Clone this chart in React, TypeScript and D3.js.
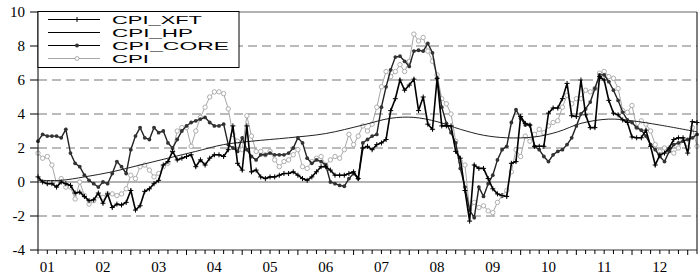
import React from "react";
import * as d3 from "d3";

// month index counted from Jan 2001 (0); first observation = May 2001
const START_MONTH = 4;
const END_MONTH = 146;

const yearLabels = ["01", "02", "03", "04", "05", "06", "07", "08", "09", "10", "11", "12"];
const yTicks = [-4, -2, 0, 2, 4, 6, 8, 10];
const dashedLevels = [-2, 2, 4, 6, 8];

const cpi = [
  1.7, 1.4, 1.5, 1.0, -0.1, 0.2, -0.3, -0.3,
  -1.0, 0.0, -0.8, -1.3, -1.1, -0.8, -0.9, -0.7, -0.7, -0.8, -0.7, -0.4,
  0.4, 0.2, 0.9, 1.0, 0.7, 0.3, 0.5, 0.9, 1.1, 1.8, 3.0, 3.2,
  3.2, 2.1, 3.0, 3.8, 4.4, 5.0, 5.3, 5.3, 5.2, 4.3, 2.8, 2.4,
  1.9, 3.9, 2.7, 1.8, 1.8, 1.6, 1.8, 1.3, 0.9, 1.2, 1.3, 1.6,
  1.9, 0.9, 0.8, 1.2, 1.4, 1.5, 1.0, 1.3, 1.5, 1.4, 1.9, 2.8,
  2.2, 2.7, 3.3, 3.0, 3.4, 4.4, 5.6, 6.5, 6.2, 6.5, 6.9, 6.5,
  7.1, 8.7, 8.3, 8.5, 7.7, 7.1, 6.3, 4.9, 4.6, 4.0, 2.4, 1.2,
  1.0, -1.6, -1.2, -1.5, -1.4, -1.7, -1.8, -1.2, -0.8, -0.5, 0.6, 1.9,
  1.5, 2.7, 2.4, 2.8, 3.1, 2.9, 3.3, 3.5, 3.6, 4.4, 5.1, 4.6,
  4.9, 4.9, 5.4, 5.3, 5.5, 6.4, 6.5, 6.2, 6.1, 5.5, 4.2, 4.1,
  4.5, 3.2, 3.6, 3.4, 3.0, 2.2, 1.8, 2.0, 1.9, 1.7, 2.0, 2.5,
  2.0, 3.2, 2.1,
];

const cpiXft = [
  0.3, 0.0, -0.1, -0.1, -0.3, 0.0, -0.1, -0.2,
  -0.65, -0.6, -0.85, -1.1, -1.05, -0.65, -1.25, -0.7, -1.5, -1.3, -1.35, -1.2,
  -0.5, -1.65, -1.4, -0.55, -0.4, -0.1, 0.1, 1.0, 1.2, 1.8, 1.3, 1.4,
  1.5, 1.6, 0.9, 1.3, 1.0, 1.4, 1.6, 1.6, 1.5, 1.9, 3.3, 1.1,
  0.7, 3.3, 0.6, 0.7, 0.3, 0.2, 0.3, 0.3, 0.4, 0.5, 0.5, 0.6,
  0.4, 0.2, 0.1, 0.3, 0.6, 0.9, 0.9, 0.7, 0.4, 0.4, 0.4, 0.5,
  0.6, 0.2, 2.0, 2.1, 1.9, 2.2, 2.3, 2.5, 4.2, 4.9, 6.0, 5.4,
  5.7, 6.05, 4.2, 5.0, 3.4, 3.1, 6.1, 3.3, 3.3, 3.3, 1.8, 1.4,
  -0.5, -2.3, 1.0, 0.8, 0.8, 0.2, -0.4, -0.7, -0.8, -0.85, 1.1, 1.2,
  3.85, 3.45, 3.35, 2.1, 2.1, 2.1, 4.05, 4.35, 4.35, 4.9, 5.8, 3.9,
  3.85, 6.0, 3.95, 3.2, 3.2, 6.2, 6.0, 4.8, 4.05, 3.95, 3.65, 3.5,
  2.65, 2.6, 2.6, 3.05, 2.1, 1.0, 1.6, 1.7, 2.0, 2.5, 2.6, 2.6,
  1.7, 3.55, 3.5,
];

const cpiCore = [
  2.4, 2.8, 2.7, 2.7, 2.7, 2.6, 3.1, 1.7,
  1.1, 0.9, 0.4, 0.1, -0.1, -0.3, 0.0, -0.1, 0.5, 1.2, 0.9, 0.5,
  1.9, 2.7, 3.2, 2.6, 2.5, 3.2, 2.9, 3.0, 2.3, 2.0, 2.5, 3.0,
  3.3, 3.5, 3.6, 3.7, 3.8, 3.5, 3.3, 3.3, 3.4, 2.2, 2.0, 1.8,
  2.6, 1.9, 1.5, 1.3, 1.6, 1.6, 1.7, 1.6, 1.6, 1.6, 1.7, 2.0,
  2.6, 2.3, 1.4, 1.1, 1.3, 1.2, 1.0, 0.0, -0.1, -0.2, -0.25, 0.2,
  0.5, 0.2, 2.3, 2.5, 2.7, 2.8, 4.4, 5.6, 6.6, 7.35, 7.4, 7.1,
  6.8, 7.7, 7.75, 7.7, 8.15, 7.6, 6.1, 4.4, 3.45, 2.9, 2.3, 0.8,
  -0.3, -1.65, -2.1, -0.3, -0.85, -0.1, 0.4, 1.3, 1.9, 2.1, 3.5, 4.25,
  3.75, 3.35, 3.35, 2.1, 1.9, 1.5, 1.2, 1.6, 1.8, 1.9, 2.2, 2.6,
  3.3, 4.0, 4.3, 4.7, 5.5, 6.3, 6.3, 5.9, 5.4, 4.8, 4.1, 3.65,
  3.5, 3.2, 3.05, 2.7, 2.2, 1.9, 1.5, 1.2, 1.8, 2.2, 2.3, 2.4,
  2.5, 2.6, 2.8,
];

const hpMonths = [4, 9, 14, 20, 26, 32, 38, 44, 50, 58, 66, 74, 80, 85, 90, 95, 100, 105, 111, 116, 121, 127, 132, 138, 146];
const hpValues = [0.1, 0.1, 0.3, 0.6, 1.0, 1.4, 1.8, 2.2, 2.4, 2.6, 2.85, 3.35, 3.75, 3.8, 3.55, 3.1, 2.75, 2.6, 2.65, 2.95, 3.45, 3.7, 3.6, 3.35, 2.95];

const legendItems = [
  { label: "CPI_XFT", kind: "xft", width: 90 },
  { label: "CPI_HP", kind: "hp", width: 81 },
  { label: "CPI_CORE", kind: "core", width: 117 },
  { label: "CPI", kind: "cpi", width: 37 },
];

const W = 700;
const H = 275;
const L = 38;
const R = 697;
const T = 12;
const B = 250;

export default function App() {
  const x = d3.scaleLinear().domain([START_MONTH, END_MONTH]).range([L, R]);
  const y = d3.scaleLinear().domain([-4, 10]).range([B, T]);

  const series = (arr: number[]) => arr.map((v, i) => [x(START_MONTH + i), y(v)] as [number, number]);
  const line = d3.line<[number, number]>();
  const hpLine = d3
    .line<[number, number]>()
    .curve(d3.curveCatmullRom.alpha(0.5));

  const cpiPts = series(cpi);
  const xftPts = series(cpiXft);
  const corePts = series(cpiCore);
  const hpPts = hpMonths.map((m, i) => [x(m), y(hpValues[i])] as [number, number]);

  const ticks: { m: number; major: boolean }[] = [];
  for (let m = 0; m <= END_MONTH; m += 2) {
    if (m >= START_MONTH && m <= END_MONTH) ticks.push({ m, major: m % 12 === 0 });
  }

  const gray = "#a6a6a6";
  return (
    <svg
      width={W}
      height={H}
      style={{ position: "fixed", left: 0, top: 0, background: "#fff" }}
      fontFamily="'Liberation Serif', 'Times New Roman', serif"
    >
      <rect x={0} y={0} width={W} height={H} fill="#fff" />
      {/* grid */}
      {dashedLevels.map((v) => (
        <line key={v} x1={L} x2={R} y1={y(v)} y2={y(v)} stroke="#777" strokeWidth={1} strokeDasharray="9,5" />
      ))}
      <line x1={L} x2={R} y1={y(0)} y2={y(0)} stroke="#666" strokeWidth={1.2} />
      <line x1={L} x2={R} y1={T} y2={T} stroke="#999" strokeWidth={1.5} />

      {/* series */}
      <path d={line(cpiPts) || ""} fill="none" stroke={gray} strokeWidth={1} />
      {cpiPts.map((p, i) => (
        <circle key={"c" + i} cx={p[0]} cy={p[1]} r={2.2} fill="#fff" stroke={gray} strokeWidth={0.9} />
      ))}
      <path d={hpLine(hpPts) || ""} fill="none" stroke="#222" strokeWidth={1} />
      <path d={line(corePts) || ""} fill="none" stroke="#222" strokeWidth={1.4} />
      {corePts.map((p, i) => (
        <circle key={"k" + i} cx={p[0]} cy={p[1]} r={1.9} fill="#333" />
      ))}
      <path d={line(xftPts) || ""} fill="none" stroke="#000" strokeWidth={1.6} />
      {xftPts.map((p, i) => (
        <path
          key={"x" + i}
          d={`M${p[0] - 2.5},${p[1]}H${p[0] + 2.5}M${p[0]},${p[1] - 2.5}V${p[1] + 2.5}`}
          stroke="#000"
          strokeWidth={1}
        />
      ))}

      {/* frame */}
      <line x1={L} x2={L} y1={T} y2={B} stroke="#000" strokeWidth={1} />
      <line x1={R} x2={R} y1={T} y2={B} stroke="#000" strokeWidth={1} />
      <line x1={L} x2={R} y1={B} y2={B} stroke="#333" strokeWidth={1.2} />

      {/* y axis */}
      {yTicks.map((v) => (
        <g key={v}>
          <line x1={L - 8} x2={L} y1={y(v)} y2={y(v)} stroke="#000" strokeWidth={1} />
          <text x={25} y={y(v)} dy="0.35em" textAnchor="end" fontSize={15} fill="#000">
            {v}
          </text>
        </g>
      ))}

      {/* x axis */}
      {ticks.map((t) => (
        <line key={t.m} x1={x(t.m)} x2={x(t.m)} y1={B} y2={B + (t.major ? 5 : 4)} stroke="#000" strokeWidth={1} />
      ))}
      {yearLabels.map((lab, i) => (
        <text key={lab} x={x(i * 12 + 6)} y={272} textAnchor="middle" fontSize={15} fill="#000">
          {lab}
        </text>
      ))}

      {/* legend */}
      <rect x={L} y={11.5} width={201} height={56} fill="#fff" stroke="#000" strokeWidth={1} />
      {legendItems.map((it, i) => {
        const ly = 19.5 + i * 13;
        const col = it.kind === "cpi" ? gray : "#000";
        return (
          <g key={it.label}>
            <line x1={48} x2={100} y1={ly} y2={ly} stroke={col} strokeWidth={it.kind === "hp" ? 1 : 1.2} />
            {it.kind === "xft" && <line x1={77} x2={77} y1={ly - 2.5} y2={ly + 2.5} stroke="#000" strokeWidth={1} />}
            {it.kind === "core" && <circle cx={77} cy={ly} r={2} fill="#333" />}
            {it.kind === "cpi" && <circle cx={77} cy={ly} r={2} fill="#fff" stroke={gray} strokeWidth={0.9} />}
            <text
              x={112}
              y={ly + 4.2}
              fontFamily="'Liberation Sans', Arial, sans-serif"
              fontSize={11.5}
              textLength={it.width}
              lengthAdjust="spacingAndGlyphs"
              fill="#000"
            >
              {it.label}
            </text>
          </g>
        );
      })}
    </svg>
  );
}
